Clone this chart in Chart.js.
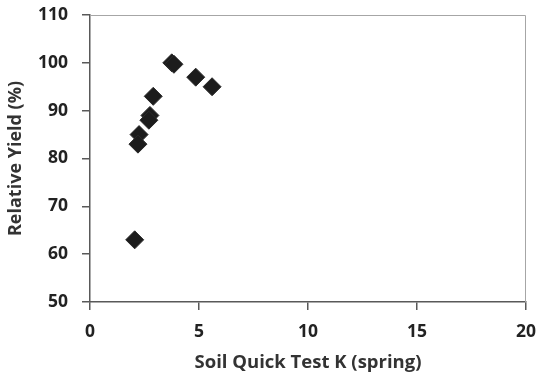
<!DOCTYPE html>
<html><head><meta charset="utf-8">
<script src="https://cdn.jsdelivr.net/npm/chart.js@4"></script>
<style>html,body{margin:0;padding:0;background:#fff}#w{width:542px;height:379px}</style>
</head><body><div id="w"><canvas id="c"></canvas></div>
<script>
const soilK = [3.75, 3.85, 4.85, 5.6, 2.9, 2.75, 2.7, 2.25, 2.2, 2.05];
const relYield = [100, 99.7, 97, 95, 93, 89, 88, 85, 83, 63];
const xTicks = [0, 5, 10, 15, 20];
const yTicks = [50, 60, 70, 80, 90, 100, 110];

const frame = {
  id: 'frame',
  afterDraw(chart) {
    const a = chart.chartArea, ctx = chart.ctx;
    ctx.save();
    ctx.strokeStyle = '#a6a6a6';
    ctx.lineWidth = 1;
    ctx.beginPath();
    ctx.moveTo(a.left, a.top + 0.5);
    ctx.lineTo(a.right - 0.5, a.top + 0.5);
    ctx.lineTo(a.right - 0.5, a.bottom);
    ctx.stroke();
    ctx.restore();
  }
};

const fam = '"Open Sans", Lato, sans-serif';
const tickFont = { family: fam, weight: 'bold', size: 17.5 };
const titleFont = { family: fam, weight: 'bold', size: 18 };
new Chart(document.getElementById('c'), {
  type: 'scatter',
  data: { datasets: [{
    data: soilK.map((x, i) => ({ x, y: relYield[i] })),
    pointStyle: 'rectRot', pointRadius: 9, pointHoverRadius: 9,
    backgroundColor: '#1c1c1c', borderColor: '#2a2a2a', borderWidth: 1
  }]},
  options: {
    responsive: true, maintainAspectRatio: false, animation: false,
    layout: { padding: { top: 15, right: 16, left: 0, bottom: 0 } },
    plugins: { legend: { display: false }, tooltip: { enabled: false } },
    scales: {
      x: {
        type: 'linear', min: 0, max: 20,
        afterBuildTicks: s => { s.ticks = xTicks.map(v => ({ value: v })); },
        afterFit: s => { s.height = 77; s.paddingLeft = 0; s.paddingRight = 0; },
        grid: { drawOnChartArea: false, tickLength: 8, color: '#595959', lineWidth: 1.5 },
        border: { color: '#595959', width: 1.5 },
        ticks: { color: '#222', font: tickFont, padding: 12, maxRotation: 0 },
        title: { display: true, text: 'Soil Quick Test K (spring)', color: '#333', font: { family: fam, weight: 'bold', size: 18.5 }, padding: { top: 0, bottom: 5 } }
      },
      y: {
        type: 'linear', min: 50, max: 110,
        afterBuildTicks: s => { s.ticks = yTicks.map(v => ({ value: v })); },
        afterFit: s => { s.width = 90; s.paddingTop = 0; s.paddingBottom = 0; },
        grid: { drawOnChartArea: false, tickLength: 8, color: '#595959', lineWidth: 1.5 },
        border: { color: '#595959', width: 1.5 },
        ticks: { color: '#222', font: tickFont, padding: 14 },
        title: { display: true, text: 'Relative Yield (%)', color: '#333', font: titleFont, padding: { top: 5, bottom: 0 } }
      }
    }
  },
  plugins: [frame]
});
</script></body></html>
